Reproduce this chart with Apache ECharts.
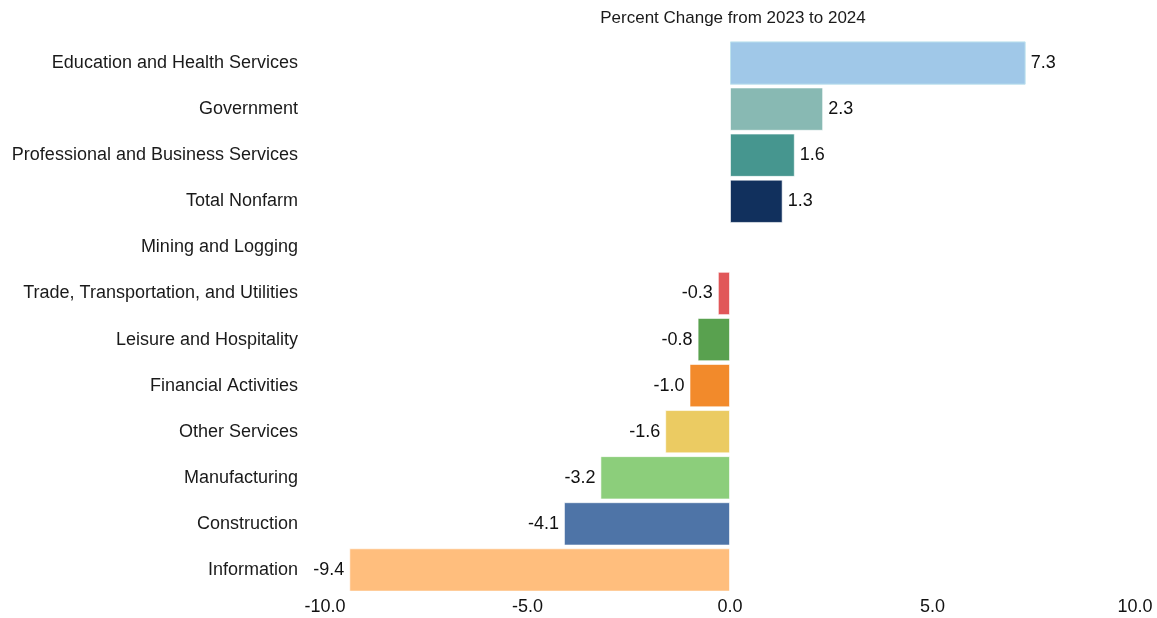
<!DOCTYPE html>
<html>
<head>
<meta charset="utf-8">
<script src="https://cdn.jsdelivr.net/npm/echarts@6/dist/echarts.min.js"></script>
<style>
  html, body { margin: 0; padding: 0; background: #ffffff; }
  #chart { width: 1157px; height: 618px; }
</style>
</head>
<body>
<div id="chart"></div>
<script>
// Industries, top to bottom
const industries = [
  'Education and Health Services',
  'Government',
  'Professional and Business Services',
  'Total Nonfarm',
  'Mining and Logging',
  'Trade, Transportation, and Utilities',
  'Leisure and Hospitality',
  'Financial Activities',
  'Other Services',
  'Manufacturing',
  'Construction',
  'Information'
];

// Percent change in employment, 2023 to 2024 (no figure for Mining and Logging)
const pctChange = [7.3, 2.3, 1.6, 1.3, null, -0.3, -0.8, -1.0, -1.6, -3.2, -4.1, -9.4];

// Fill colour per industry
const barColors = [
  '#a0c8e8', '#88b9b3', '#46968f', '#11305d', '#999999', '#e15759',
  '#59a14f', '#f28a2b', '#ebcb62', '#8cce7b', '#4e74a7', '#ffbe7d'
];

const xTicks = [-10, -5, 0, 5, 10];

const chart = echarts.init(document.getElementById('chart'));

const fontFamily = '"Liberation Sans", Arial, sans-serif';

chart.setOption({
  animation: false,
  backgroundColor: '#ffffff',
  title: {
    text: 'Percent Change from 2023 to 2024',
    left: 728,
    textAlign: 'center',
    top: 5,
    textStyle: { fontFamily, fontSize: 17, fontWeight: 'normal', color: '#1a1a1a' }
  },
  grid: { left: 325, right: 22, top: 40, bottom: 25, containLabel: false },
  xAxis: {
    type: 'value',
    min: xTicks[0],
    max: xTicks[xTicks.length - 1],
    interval: 5,
    axisLine: { show: false },
    axisTick: { show: false },
    splitLine: { show: false },
    axisLabel: {
      fontFamily, fontSize: 18, color: '#111111', margin: 5,
      formatter: v => v.toFixed(1)
    }
  },
  yAxis: {
    type: 'category',
    data: industries,
    inverse: true,
    axisLine: { show: false },
    axisTick: { show: false },
    splitLine: { show: false },
    axisLabel: { fontFamily, fontSize: 18, color: '#1a1a1a', margin: 27 }
  },
  series: [{
    type: 'bar',
    barCategoryGap: '6%',
    data: pctChange.map((v, i) => ({
      value: v,
      itemStyle: {
        color: barColors[i],
        borderColor: i === 0 ? '#bfe3ee' : 'rgba(255,255,255,0.6)',
        borderWidth: 1
      },
      label: { position: v != null && v < 0 ? 'left' : 'right' }
    })),
    label: {
      show: true,
      distance: 5,
      fontFamily, fontSize: 18, color: '#111111',
      formatter: p => (p.value == null ? '' : Number(p.value).toFixed(1))
    }
  }]
});
</script>
</body>
</html>
